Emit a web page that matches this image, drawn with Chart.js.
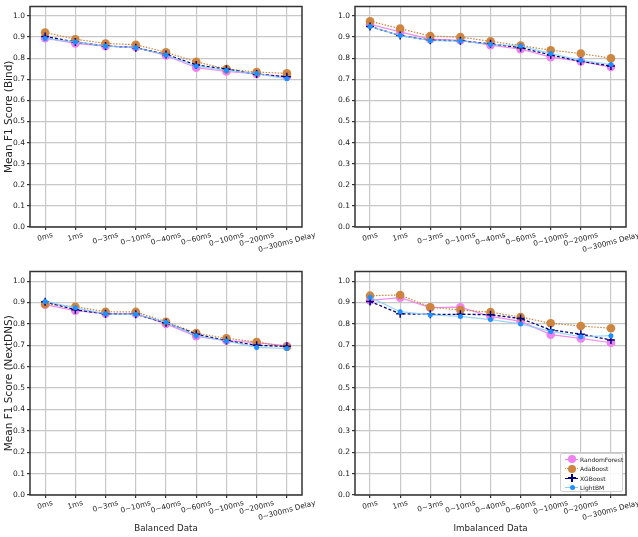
<!DOCTYPE html>
<html>
<head>
<meta charset="utf-8">
<script src="https://cdn.jsdelivr.net/npm/chart.js@4.4.0/dist/chart.umd.min.js"></script>
<style>
  html, body { margin: 0; padding: 0; background: #fff; }
  body { width: 638px; height: 537px; position: relative; overflow: hidden; font-family: 'DejaVu Sans', sans-serif; }
  .panel { position: absolute; }
  #legend { position: absolute; left: 560px; top: 453px; width: 63px; height: 39px; box-sizing: border-box;
            border: 1px solid #d0d0d0; border-radius: 2px; background: rgba(255,255,255,0.85); }
  .row { position: absolute; left: 0; width: 100%; height: 9px; }
  .row .ln { position: absolute; left: 4px; width: 13px; top: 4px; height: 0; }
  .row .txt { position: absolute; left: 19px; top: 0; font-size: 6px; line-height: 9px; color: #222; white-space: nowrap; }
  .row .dot { position: absolute; border-radius: 50%; }
</style>
</head>
<body>
<div class="panel" style="left:0;top:0"><canvas id="bindBal" width="318" height="265"></canvas></div>
<div class="panel" style="left:318px;top:0"><canvas id="bindImb" width="320" height="265"></canvas></div>
<div class="panel" style="left:0;top:265px"><canvas id="nextBal" width="318" height="272"></canvas></div>
<div class="panel" style="left:318px;top:265px"><canvas id="nextImb" width="320" height="272"></canvas></div>

<div id="legend">
  <div class="row" style="top:0.5px">
    <span class="ln" style="border-top:1.2px solid violet"></span>
    <span class="dot" style="left:6.5px;top:0.5px;width:8px;height:8px;background:violet"></span>
    <span class="txt">RandomForest</span>
  </div>
  <div class="row" style="top:10px">
    <span class="ln" style="border-top:1.2px dotted peru"></span>
    <span class="dot" style="left:6.5px;top:0.5px;width:8px;height:8px;background:peru"></span>
    <span class="txt">AdaBoost</span>
  </div>
  <div class="row" style="top:19.5px">
    <span class="ln" style="border-top:1.2px dashed navy"></span>
    <span class="dot" style="left:10px;top:0.5px;width:1.5px;height:8px;background:navy;border-radius:0"></span>
    <span class="dot" style="left:6.8px;top:3.8px;width:8px;height:1.5px;background:navy;border-radius:0"></span>
    <span class="txt">XGBoost</span>
  </div>
  <div class="row" style="top:28.5px">
    <span class="ln" style="border-top:1.2px solid lightskyblue"></span>
    <span class="dot" style="left:8.5px;top:2.3px;width:5px;height:5px;background:dodgerblue"></span>
    <span class="txt">LightBM</span>
  </div>
</div>

<script>
const delays = ['0ms', '1ms', '0~3ms', '0~10ms', '0~40ms', '0~60ms', '0~100ms', '0~200ms', '0~300ms Delay'];

// Bind, balanced data
const bindBalRF   = [0.895, 0.870, 0.857, 0.852, 0.813, 0.755, 0.737, 0.725, 0.712];
const bindBalAda  = [0.922, 0.890, 0.870, 0.864, 0.828, 0.783, 0.749, 0.734, 0.728];
const bindBalXGB  = [0.903, 0.877, 0.858, 0.850, 0.818, 0.768, 0.748, 0.725, 0.712];
const bindBalLGBM = [0.893, 0.877, 0.857, 0.850, 0.815, 0.762, 0.742, 0.727, 0.702];

// Bind, imbalanced data
const bindImbRF   = [0.960, 0.925, 0.890, 0.885, 0.862, 0.843, 0.805, 0.785, 0.758];
const bindImbAda  = [0.975, 0.940, 0.905, 0.900, 0.880, 0.860, 0.838, 0.822, 0.800];
const bindImbXGB  = [0.950, 0.907, 0.885, 0.883, 0.868, 0.850, 0.815, 0.785, 0.763];
const bindImbLGBM = [0.950, 0.907, 0.883, 0.882, 0.865, 0.858, 0.822, 0.790, 0.770];

// NextDNS, balanced data
const nextBalRF   = [0.890, 0.862, 0.848, 0.848, 0.800, 0.742, 0.722, 0.712, 0.697];
const nextBalAda  = [0.893, 0.880, 0.857, 0.856, 0.810, 0.757, 0.733, 0.715, 0.693];
const nextBalXGB  = [0.903, 0.866, 0.847, 0.845, 0.805, 0.752, 0.722, 0.700, 0.695];
const nextBalLGBM = [0.905, 0.875, 0.847, 0.845, 0.808, 0.745, 0.720, 0.690, 0.685];

// NextDNS, imbalanced data
const nextImbRF   = [0.910, 0.923, 0.876, 0.878, 0.835, 0.812, 0.750, 0.732, 0.712];
const nextImbAda  = [0.932, 0.935, 0.878, 0.865, 0.855, 0.832, 0.803, 0.790, 0.780];
const nextImbXGB  = [0.905, 0.847, 0.845, 0.845, 0.843, 0.825, 0.772, 0.752, 0.725];
const nextImbLGBM = [0.925, 0.857, 0.842, 0.835, 0.820, 0.800, 0.765, 0.740, 0.745];

const FONT = 'DejaVu Sans';
const GRID = '#c8c8c8';

// frame around the plot + matplotlib-style centred, rotated x labels
const frameAndLabels = {
  id: 'frameAndLabels',
  afterDraw(chart) {
    const { ctx, chartArea: a, scales } = chart;
    ctx.save();
    ctx.strokeStyle = '#333';
    ctx.lineWidth = 1.5;
    ctx.strokeRect(a.left, a.top, a.right - a.left, a.bottom - a.top);

    const ang = 15 * Math.PI / 180;
    const fs = 7.3;
    ctx.font = fs + 'px "' + FONT + '"';
    ctx.fillStyle = '#222';
    ctx.textAlign = 'center';
    ctx.textBaseline = 'middle';
    chart.data.labels.forEach((lab, i) => {
      const x = scales.x.getPixelForValue(i);
      const w = ctx.measureText(lab).width;
      const bh = w * Math.sin(ang) + fs * Math.cos(ang);
      ctx.save();
      ctx.translate(x, a.bottom + 4.5 + bh / 2);
      ctx.rotate(-ang);
      ctx.fillText(lab, 0, 0);
      ctx.restore();
    });
    ctx.restore();
  }
};

function makeSeries(rf, ada, xgb, lgbm) {
  return [
    { label: 'RandomForest', data: rf, borderColor: 'rgba(238,130,238,0.9)', borderWidth: 1.2,
      pointRadius: 4.3, pointBackgroundColor: 'violet', pointBorderWidth: 0, order: 4 },
    { label: 'AdaBoost', data: ada, borderColor: 'peru', borderWidth: 1.2, borderDash: [1.5, 1.5],
      pointRadius: 4.3, pointBackgroundColor: 'peru', pointBorderWidth: 0, order: 3 },
    { label: 'XGBoost', data: xgb, borderColor: 'navy', borderWidth: 1.3, borderDash: [3, 2],
      pointStyle: 'cross', pointRadius: 4, pointBorderColor: 'navy', pointBorderWidth: 1.5, order: 2 },
    { label: 'LightBM', data: lgbm, borderColor: 'rgba(135,206,250,0.85)', borderWidth: 1.2,
      pointRadius: 2.5, pointBackgroundColor: 'dodgerblue', pointBorderWidth: 0, order: 1 }
  ];
}

function makeChart(id, area, datasets, yTitle, xTitle) {
  const canvas = document.getElementById(id);
  const W = canvas.width, H = canvas.height;
  return new Chart(canvas, {
    type: 'line',
    data: { labels: delays, datasets: datasets },
    plugins: [frameAndLabels],
    options: {
      responsive: false,
      animation: false,
      layout: { padding: { left: 0, top: area.top, right: W - area.right, bottom: 0 } },
      plugins: { legend: { display: false }, tooltip: { enabled: false } },
      elements: { line: { tension: 0 } },
      scales: {
        x: {
          type: 'category',
          offset: true,
          border: { display: false },
          grid: { color: GRID, lineWidth: 1.2, tickLength: 3, tickColor: '#333' },
          ticks: { display: false },
          title: {
            display: !!xTitle, text: xTitle || '', color: '#222',
            font: { family: FONT, size: 8.7 }, padding: { top: 0, bottom: 3 }
          },
          afterFit: s => { s.height = H - area.bottom; }
        },
        y: {
          min: 0,
          max: 1.045,
          border: { display: false },
          grid: { color: GRID, lineWidth: 1.2, tickLength: 3, tickColor: '#333' },
          ticks: {
            stepSize: 0.1, includeBounds: false, padding: 2, color: '#222',
            font: { family: FONT, size: 7.5 },
            callback: v => v.toFixed(1)
          },
          title: {
            display: !!yTitle, text: yTitle || '', color: '#222',
            font: { family: FONT, size: 10.5 }, padding: { top: 3, bottom: 0 }
          },
          afterFit: s => { s.width = area.left; }
        }
      }
    }
  });
}

makeChart('bindBal', { left: 30, right: 302, top: 3, bottom: 227 },
  makeSeries(bindBalRF, bindBalAda, bindBalXGB, bindBalLGBM), 'Mean F1 Score (Bind)', null);
makeChart('bindImb', { left: 37, right: 308, top: 3, bottom: 227 },
  makeSeries(bindImbRF, bindImbAda, bindImbXGB, bindImbLGBM), null, null);
makeChart('nextBal', { left: 30, right: 302, top: 6, bottom: 230 },
  makeSeries(nextBalRF, nextBalAda, nextBalXGB, nextBalLGBM), 'Mean F1 Score (NextDNS)', 'Balanced Data');
makeChart('nextImb', { left: 37, right: 308, top: 6, bottom: 230 },
  makeSeries(nextImbRF, nextImbAda, nextImbXGB, nextImbLGBM), null, 'Imbalanced Data');
</script>
</body>
</html>
